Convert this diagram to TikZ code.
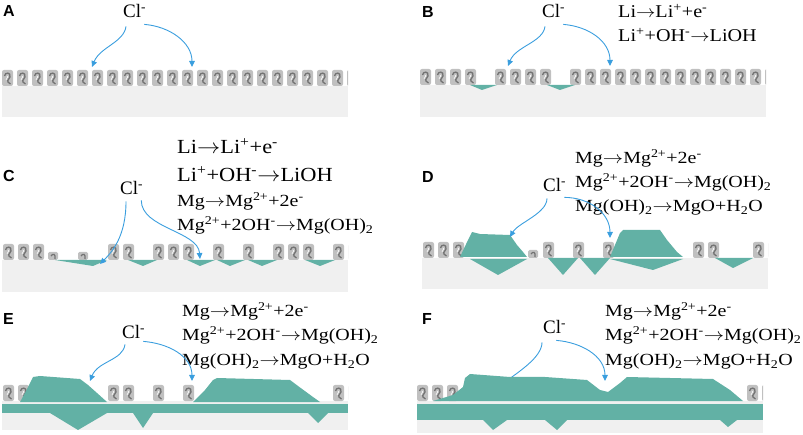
\documentclass[tikz,border=0pt]{standalone}
\usepackage{fontspec}
\setmainfont{Liberation Serif}
\newfontfamily\panelfont{Liberation Sans}
\usetikzlibrary{arrows.meta}

\definecolor{subgray}{RGB}{240,240,240}
\definecolor{prodteal}{RGB}{98,177,165}
\definecolor{ionblue}{RGB}{58,158,222}
\definecolor{blkgray}{RGB}{192,192,192}
\definecolor{blkdark}{RGB}{115,115,115}

\tikzset{
  subst/.style={fill=subgray},
  prod/.style={fill=prodteal},
  ion/.style={ionblue, line width=0.9pt, -{Triangle[length=6pt,width=5.5pt]}},
  panel/.style={font=\panelfont\bfseries\fontsize{16}{16}\selectfont, anchor=base west, inner sep=0pt},
  clion/.style={font=\fontsize{19}{19}\selectfont, anchor=base west, inner sep=0pt},
  eqli/.style={font=\fontsize{18}{18}\selectfont, anchor=base west, inner sep=0pt, /utils/exec=\def\rxnxs{1.12}},
  eqbig/.style={font=\fontsize{20}{20}\selectfont, anchor=base west, inner sep=0pt, /utils/exec=\def\rxnxs{1.12}},
  eqn/.style={font=\fontsize{17}{17}\selectfont, anchor=base west, inner sep=0pt, /utils/exec=\def\rxnxs{1.175}}
}

% oxide film blocks
\newcommand{\oxblk}[2]{%
  \fill[blkgray, rounded corners=2pt] (#1,#2) rectangle ++(11,16);
  \draw[blkdark, line width=1.3pt] (#1+2.5,#2+6) .. controls (#1+3,#2+2) and (#1+9,#2+2) .. (#1+8,#2+7)
    .. controls (#1+7,#2+10) and (#1+3,#2+11) .. (#1+8.5,#2+14);
  \draw[white, line width=0.6pt] (#1+5,#2+6) .. controls (#1+6,#2+5) and (#1+6,#2+8) .. (#1+4,#2+10);
}
\newcommand{\oxstub}[3]{%
  \fill[blkgray, rounded corners=1.5pt] (#1,#2) rectangle (#1+10,#3);
  \draw[blkdark, line width=1.2pt] (#1+3,#2+4) .. controls (#1+5,#2+1) and (#1+8,#2+2) .. (#1+7,#3-1);
}

% reactions, stretched like the original lettering
\newcommand{\rxn}[1]{\scalebox{\rxnxs}[1]{#1}}
\newcommand{\rxnLiOx}{\rxn{Li$\rightarrow$Li\textsuperscript{+}+e\textsuperscript{-}}}
\newcommand{\rxnLiOH}{\rxn{Li\textsuperscript{+}+OH\textsuperscript{-}$\rightarrow$LiOH}}
\newcommand{\rxnMgOx}{\rxn{Mg$\rightarrow$Mg\textsuperscript{2+}+2e\textsuperscript{-}}}
\newcommand{\rxnMgOH}{\rxn{Mg\textsuperscript{2+}+2OH\textsuperscript{-}$\rightarrow$Mg(OH)\textsubscript{2}}}
\newcommand{\rxnMgO}{\rxn{Mg(OH)\textsubscript{2}$\rightarrow$MgO+H\textsubscript{2}O}}

\begin{document}
\begin{tikzpicture}[x=1pt,y=-1pt]
    \useasboundingbox (0,0) rectangle (803,435);

    % panel A
    \fill[subst] (2,86) rectangle (348,117);
    \begin{scope}
        \clip (2,0) rectangle (348,435);
        \foreach \i in {0,...,23} {\oxblk{2+15*\i}{70}}
    \end{scope}
    \node[panel] (labA) at (3,17) {A};
    \node[clion] (clA) at (123,18) {Cl\textsuperscript{-}};
    \coordinate (tA1) at (92,67);
    \coordinate (tA2) at (192,67);
    \draw[ion] ([shift={(3,8)}]clA.south west) .. controls +(-2,16) and +(8,-20) .. (tA1);
    \draw[ion] ([shift={(-2,6)}]clA.south east) .. controls +(25,2) and +(0,-25) .. (tA2);

    % panel B
    \fill[subst] (420,85) rectangle (766,117);
    \begin{scope}
        \clip (420,0) rectangle (766,435);
        \foreach \i in {0,1,2,3,5,6,7,8,10,11,...,23} {\oxblk{420+15*\i}{69}}
    \end{scope}
    \fill[prod] (470,85) -- (497,85) -- (482,90) -- cycle;
    \fill[prod] (547,85) -- (575,85) -- (560,90) -- cycle;
    \node[panel] (labB) at (422,18) {B};
    \node[clion] (clB) at (542,18) {Cl\textsuperscript{-}};
    \node[eqli] (eqB1) at (618,18) {\rxnLiOx};
    \node[eqli] (eqB2) at (618,42) {\rxnLiOH};
    \coordinate (tB1) at (508,66);
    \coordinate (tB2) at (610,66);
    \draw[ion] ([shift={(3,8)}]clB.south west) .. controls +(-2,16) and +(8,-20) .. (tB1);
    \draw[ion] ([shift={(-2,6)}]clB.south east) .. controls +(25,2) and +(0,-25) .. (tB2);

    % panel C
    \fill[subst] (2,260) rectangle (348,292);
    \begin{scope}
        \clip (2,0) rectangle (348,435);
        \foreach \i in {0,1,2,7,8,10,11,12,14,16,18,19,20,22,23} {\oxblk{3+15*\i}{244}}
        \oxstub{48}{252}{260}
        \oxstub{78}{252}{260}
    \end{scope}
    \fill[prod] (55,260) -- (107,260) -- (93,266) -- cycle;
    \fill[prod] (128,260) -- (157,260) -- (143,266) -- cycle;
    \fill[prod] (187,260) -- (215,260) -- (200,266) -- cycle;
    \fill[prod] (217,260) -- (245,260) -- (230,266) -- cycle;
    \fill[prod] (248,260) -- (277,260) -- (262,266) -- cycle;
    \fill[prod] (305,260) -- (335,260) -- (320,266) -- cycle;
    \node[panel] (labC) at (3,182) {C};
    \node[clion] (clC) at (120,195) {Cl\textsuperscript{-}};
    \node[eqbig] (eqC1) at (177,154) {\rxnLiOx};
    \node[eqbig] (eqC2) at (177,182) {\rxnLiOH};
    \node[eqn] (eqC3) at (177,207) {\rxnMgOx};
    \node[eqn] (eqC4) at (177,231) {\rxnMgOH};
    \coordinate (tC1) at (100,264);
    \coordinate (tC2) at (200,259);
    \draw[ion] ([shift={(6,6)}]clC.south west) .. controls +(0,35) and +(12,-12) .. (tC1);
    \draw[ion] ([shift={(-2,5)}]clC.south east) .. controls +(0,28) and +(-2,-28) .. (tC2);

    % panel D
    \fill[subst] (422,258) rectangle (768,289);
    \begin{scope}
        \clip (422,0) rectangle (768,435);
        \foreach \i in {0,1,2,8,10,12,18,19,22,23} {\oxblk{423+15*\i}{242}}
        \oxstub{528}{250}{258}
    \end{scope}
    \fill[prod] (460,257) -- (468,240) -- (472,232) -- (480,234) -- (510,235) -- (517,245)
        -- (523,252) -- (527,257) -- cycle;
    \fill[prod] (470,259) -- (527,259) -- (498,275) -- cycle;
    \fill[prod] (548,258) -- (578,258) -- (563,275) -- cycle;
    \fill[prod] (580,258) -- (610,258) -- (595,275) -- cycle;
    \fill[prod] (610,257) -- (615,245) -- (620,233) -- (623,230) -- (660,230) -- (667,240)
        -- (677,252) -- (683,257) -- cycle;
    \fill[prod] (610,259) -- (683,259) -- (653,270) -- cycle;
    \fill[prod] (715,258) -- (753,258) -- (733,268) -- cycle;
    \node[panel] (labD) at (422,183) {D};
    \node[clion] (clD) at (543,192) {Cl\textsuperscript{-}};
    \node[eqn] (eqD1) at (575,164) {\rxnMgOx};
    \node[eqn] (eqD2) at (575,188) {\rxnMgOH};
    \node[eqn] (eqD3) at (575,212) {\rxnMgO};
    \coordinate (tD1) at (510,237);
    \coordinate (tD2) at (610,238);
    \draw[ion] ([shift={(4,6)}]clD.south west) .. controls +(0,15) and +(8,-14) .. (tD1);
    \draw[ion] ([shift={(-2,5)}]clD.south east) .. controls +(25,0) and +(0,-25) .. (tD2);

    % panel E
    \fill[subst] (2,401) rectangle (348,430);
    \fill[prod] (2,403.5) rectangle (348,413);
    \begin{scope}
        \clip (2,0) rectangle (348,435);
        \foreach \i in {0,1,7,8,10,12,22,23} {\oxblk{3+15*\i}{385}}
    \end{scope}
    \fill[prod] (20,402) -- (25,393) -- (33,377) -- (40,376) -- (80,379) -- (88,385)
        -- (97,393) -- (107,402) -- cycle;
    \fill[prod] (193,402) -- (205,390) -- (213,380) -- (217,378) -- (290,380) -- (298,386)
        -- (313,397) -- (320,402) -- cycle;
    \fill[prod] (50,413) -- (107,413) -- (78,430) -- cycle;
    \fill[prod] (133,413) -- (153,413) -- (143,428) -- cycle;
    \fill[prod] (308,413) -- (328,413) -- (318,423) -- cycle;
    \node[panel] (labE) at (3,325) {E};
    \node[clion] (clE) at (122,339) {Cl\textsuperscript{-}};
    \node[eqn] (eqE1) at (182,317) {\rxnMgOx};
    \node[eqn] (eqE2) at (182,341) {\rxnMgOH};
    \node[eqn] (eqE3) at (182,366) {\rxnMgO};
    \coordinate (tE1) at (90,381);
    \coordinate (tE2) at (192,381);
    \draw[ion] ([shift={(3,5)}]clE.south west) .. controls +(-2,16) and +(8,-20) .. (tE1);
    \draw[ion] ([shift={(-2,2)}]clE.south east) .. controls +(25,2) and +(0,-25) .. (tE2);

    % panel F
    \fill[subst] (417,401) rectangle (763,433);
    \fill[prod] (417,403.5) rectangle (763,420);
    \begin{scope}
        \clip (417,0) rectangle (763,435);
        \foreach \i in {0,1,2,22,23} {\oxblk{417+15*\i}{385}}
    \end{scope}
    \node[panel] (labF) at (422,325) {F};
    \node[clion] (clF) at (543,334) {Cl\textsuperscript{-}};
    \node[eqn] (eqF1) at (605,317) {\rxnMgOx};
    \node[eqn] (eqF2) at (605,341) {\rxnMgOH};
    \node[eqn] (eqF3) at (605,366) {\rxnMgO};
    \coordinate (tF1) at (503,384);
    \coordinate (tF2) at (605,381);
    \draw[ion] ([shift={(-1,8)}]clF.south west) .. controls +(0,15) and +(15,-12) .. (tF1);
    \draw[ion] ([shift={(-10,6)}]clF.south east) .. controls +(25,2) and +(0,-25) .. (tF2);
    \fill[prod] (433,401) -- (453,395) -- (463,387) -- (465,378) -- (470,374) -- (510,377)
        -- (545,377) -- (587,380) -- (600,390) -- (608,392) -- (620,383) -- (627,377)
        -- (713,379) -- (730,390) -- (743,401) -- cycle;
    \fill[prod] (483,420) -- (507,420) -- (493,430) -- cycle;
    \fill[prod] (545,420) -- (567,420) -- (557,430) -- cycle;
    \fill[prod] (720,420) -- (737,420) -- (728,427) -- cycle;
\end{tikzpicture}
\end{document}
